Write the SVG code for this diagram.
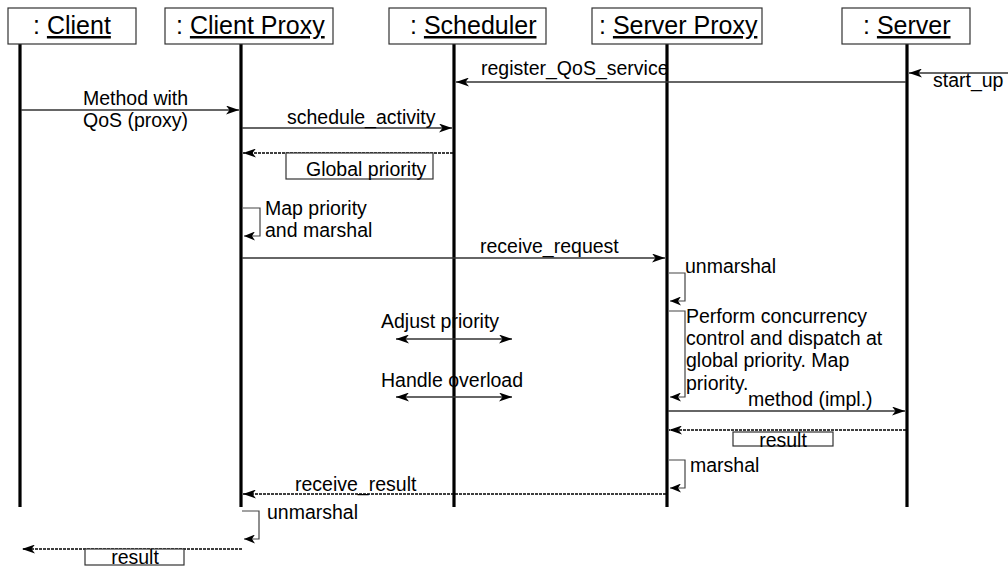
<svg xmlns="http://www.w3.org/2000/svg" width="1008" height="567" viewBox="0 0 1008 567">
<style>
  .box { fill: #fff; stroke: #333; stroke-width: 1.2; }
  .life { stroke: #000; stroke-width: 3.2; }
  .head { font-family: "Liberation Sans", Arial, sans-serif; font-size: 25px; fill: #000; }
  .u { text-decoration: underline; }
  .lbl { font-family: "Liberation Sans", Arial, sans-serif; font-size: 19.5px; fill: #000; }
  .msg { stroke: #333; stroke-width: 1.3; fill: none; }
  .ret { stroke: #000; stroke-width: 1.6; stroke-dasharray: 3 1; fill: none; }
  .self { stroke: #444; stroke-width: 1.2; fill: none; }
  .rbox { fill: #fff; stroke: #333; stroke-width: 1.2; }
</style>
<defs>
  <marker id="ah" markerWidth="13" markerHeight="9" refX="13" refY="4.5" orient="auto-start-reverse" markerUnits="userSpaceOnUse">
    <path d="M0,0 L13,4.5 L0,9 L3.5,4.5 z" fill="#000"/>
  </marker>
  <marker id="ahs" markerWidth="11" markerHeight="9" refX="11" refY="4.5" orient="auto" markerUnits="userSpaceOnUse">
    <path d="M0,0 L11,4.5 L0,9 L3,4.5 z" fill="#000"/>
  </marker>
</defs>
<rect width="1008" height="567" fill="#fff"/>

<g id="client">
  <line class="life" x1="20" y1="44" x2="20" y2="507"/>
  <rect class="box" x="8" y="8" width="128" height="36"/>
  <text class="head" x="33" y="34">: <tspan class="u" text-decoration="underline">Client</tspan></text>
</g>
<g id="client-proxy">
  <line class="life" x1="241" y1="44" x2="241" y2="507"/>
  <rect class="box" x="165" y="8" width="168" height="36"/>
  <text class="head" x="176" y="34">: <tspan class="u" text-decoration="underline">Client Proxy</tspan></text>
</g>
<g id="scheduler">
  <line class="life" x1="454" y1="44" x2="454" y2="507"/>
  <rect class="box" x="389" y="8" width="157" height="36"/>
  <text class="head" x="410" y="34">: <tspan class="u" text-decoration="underline">Scheduler</tspan></text>
</g>
<g id="server-proxy">
  <line class="life" x1="667" y1="44" x2="667" y2="507"/>
  <rect class="box" x="592" y="8" width="170" height="36"/>
  <text class="head" x="599" y="34">: <tspan class="u" text-decoration="underline">Server Proxy</tspan></text>
</g>
<g id="server">
  <line class="life" x1="907" y1="44" x2="907" y2="507"/>
  <rect class="box" x="842" y="8" width="128" height="36"/>
  <text class="head" x="863" y="34">: <tspan class="u" text-decoration="underline">Server</tspan></text>
</g>

<g id="labels-under">
  <text class="lbl" x="381" y="328">Adjust priority</text>
  <text class="lbl" x="381" y="387">Handle overload</text>
  <text class="lbl" x="481" y="75">register_QoS_service</text>
  <text class="lbl" x="295" y="491">receive_result</text>
</g>

<g id="connectors">
  <!-- start_up -->
  <line class="msg" x1="1008" y1="73" x2="909" y2="73" marker-end="url(#ah)"/>
  <text class="lbl" x="933" y="87">start_up</text>
  <!-- register_QoS_service -->
  <line class="msg" x1="906" y1="82" x2="456" y2="82" marker-end="url(#ah)"/>
  <!-- Method with QoS -->
  <line class="msg" x1="21" y1="110" x2="239" y2="110" marker-end="url(#ah)"/>
  <text class="lbl" x="83" y="105">Method with</text>
  <text class="lbl" x="83" y="127">QoS (proxy)</text>
  <!-- schedule_activity -->
  <line class="msg" x1="242" y1="128" x2="452" y2="128" marker-end="url(#ah)"/>
  <text class="lbl" x="287" y="124">schedule_activity</text>
  <!-- global priority return -->
  <line class="ret" x1="453" y1="153" x2="243" y2="153" marker-end="url(#ah)"/>
  <rect class="rbox" x="286" y="153" width="147" height="26"/>
  <text class="lbl" x="306" y="176">Global priority</text>
  <!-- Map priority and marshal -->
  <polyline class="self" points="243,208 260,208 260,236 244,236" marker-end="url(#ahs)"/>
  <text class="lbl" x="265" y="215">Map priority</text>
  <text class="lbl" x="265" y="237">and marshal</text>
  <!-- receive_request -->
  <line class="msg" x1="242" y1="258" x2="665" y2="258" marker-end="url(#ah)"/>
  <text class="lbl" x="480" y="253">receive_request</text>
  <!-- unmarshal -->
  <polyline class="self" points="669,273 685,273 685,301 670,301" marker-end="url(#ahs)"/>
  <text class="lbl" x="685" y="273">unmarshal</text>
  <!-- Perform concurrency -->
  <polyline class="self" points="669,311 685,311 685,397 670,397" marker-end="url(#ahs)"/>
  <text class="lbl" x="686" y="323">Perform concurrency</text>
  <text class="lbl" x="686" y="345">control and dispatch at</text>
  <text class="lbl" x="686" y="367">global priority. Map</text>
  <text class="lbl" x="686" y="390">priority.</text>
  <!-- Adjust priority / Handle overload -->
  <line class="msg" x1="396" y1="339" x2="512" y2="339" stroke="#000" marker-start="url(#ah)" marker-end="url(#ah)"/>
  <line class="msg" x1="396" y1="397" x2="512" y2="397" stroke="#000" marker-start="url(#ah)" marker-end="url(#ah)"/>
  <!-- method (impl.) -->
  <line class="msg" x1="668" y1="411" x2="905" y2="411" marker-end="url(#ah)"/>
  <text class="lbl" x="748" y="406">method (impl.)</text>
  <!-- result from server -->
  <line class="ret" x1="906" y1="430" x2="669" y2="430" marker-end="url(#ah)"/>
  <rect class="rbox" x="733" y="432" width="100" height="14"/>
  <text class="lbl" x="783" y="447" text-anchor="middle">result</text>
  <!-- marshal -->
  <polyline class="self" points="669,460 685,460 685,488 670,488" marker-end="url(#ahs)"/>
  <text class="lbl" x="690" y="472">marshal</text>
  <!-- receive_result -->
  <line class="ret" x1="666" y1="494" x2="243" y2="494" marker-end="url(#ah)"/>
  <!-- unmarshal at client proxy -->
  <polyline class="self" points="242,511 259,511 259,539 244,539" marker-end="url(#ahs)"/>
  <text class="lbl" x="267" y="519">unmarshal</text>
  <!-- final result -->
  <line class="ret" x1="242" y1="549" x2="22" y2="549" marker-end="url(#ah)"/>
  <rect class="rbox" x="85" y="549" width="99" height="16"/>
  <text class="lbl" x="135" y="564" text-anchor="middle">result</text>
</g>
</svg>
